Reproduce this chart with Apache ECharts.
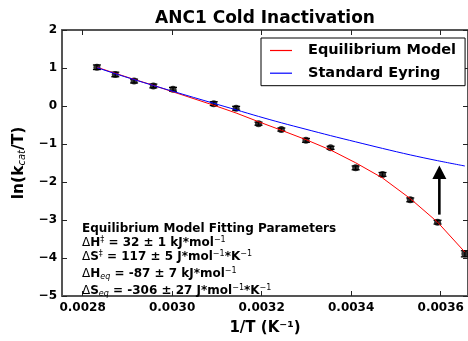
<!DOCTYPE html>
<html>
<head>
<meta charset="utf-8">
<script src="https://cdn.jsdelivr.net/npm/echarts@6/dist/echarts.min.js"></script>
<style>html,body{margin:0;padding:0;background:#fff;}#c{width:468px;height:341px;}</style>
</head>
<body>
<div id="c"></div>
<script>
// ---- data ----
const invT = [0.002832, 0.002873, 0.002915, 0.002958, 0.003002, 0.003093, 0.003143, 0.003193,
              0.003244, 0.003299, 0.003354, 0.003410, 0.003470, 0.003532, 0.003593, 0.003654];
const lnObs = [1.02, 0.83, 0.656, 0.527, 0.44, 0.062, -0.06, -0.465,
               -0.62, -0.904, -1.10, -1.628, -1.80, -2.47, -3.057, -3.89];
const lnErr = [0.06, 0.06, 0.05, 0.05, 0.05, 0.05, 0.05, 0.04,
               0.04, 0.05, 0.04, 0.05, 0.05, 0.05, 0.05, 0.08];
const eqModel = [1.02, 0.86, 0.70, 0.545, 0.372, 0.02, -0.185, -0.413,
                 -0.638, -0.886, -1.158, -1.494, -1.894, -2.437, -3.057, -3.845];
const eyring = [1.01, 0.85, 0.695, 0.54, 0.385, 0.07, -0.101, -0.274,
                -0.442, -0.612, -0.78, -0.943, -1.116, -1.287, -1.439, -1.579];
const xTicks = [0.0028, 0.0030, 0.0032, 0.0034, 0.0036];
const arrowX = [0.003597];
const arrowFrom = [-2.858];
const arrowTo = [-1.566];
const titleText = 'ANC1 Cold Inactivation';
const legendNames = ['Equilibrium Model', 'Standard Eyring'];

const FF = 'DejaVu Sans';
const chart = echarts.init(document.getElementById('c'), null, {renderer: 'canvas'});

const obsData = invT.map((x, i) => [x, lnObs[i], lnErr[i]]);
const eqData = invT.map((x, i) => [x, eqModel[i]]);
const eyData = invT.map((x, i) => [x, eyring[i]]);
const arrowData = arrowX.map((x, i) => [x, arrowFrom[i], arrowTo[i]]);

const spine = {color: '#555', width: 2};
const tickStyle = {color: '#222', width: 1};

const txtRich = {
  b: {fontFamily: FF, fontWeight: 'bold', fontSize: 12, color: '#000', lineHeight: 14},
  n: {fontFamily: FF, fontWeight: 'normal', fontSize: 12, color: '#000', lineHeight: 14},
  sup: {fontFamily: FF, fontWeight: 'normal', fontSize: 8, color: '#000', verticalAlign: 'top', lineHeight: 8},
  sub: {fontFamily: FF, fontStyle: 'italic', fontWeight: 'normal', fontSize: 8, color: '#000', verticalAlign: 'bottom', lineHeight: 8}
};
const paramLines = [
  ['{b|Equilibrium Model Fitting Parameters}', 228.5],
  ['{n|Δ}{b|H}{sup|‡}{b| = 32 ± 1 kJ*mol}{sup|−1}', 242.5],
  ['{n|Δ}{b|S}{sup|‡}{b| = 117 ± 5 J*mol}{sup|−1}{b|*K}{sup|−1}', 257],
  ['{n|Δ}{b|H}{sub|eq}{b| = -87 ± 7 kJ*mol}{sup|−1}', 273.5],
  ['{n|Δ}{b|S}{sub|eq}{b| = -306 ± 27 J*mol}{sup|−1}{b|*K}{sup|−1}', 290.5]
];

const lineIcon = 'path://M0,0 H22 V1.2 H0 Z';

const option = {
  animation: false,
  backgroundColor: '#fff',
  grid: {left: 62, top: 30, width: 408, height: 271, containLabel: false},
  graphic: [
    {type: 'text', x: 265, y: 19, z: 100,
     style: {text: titleText, textAlign: 'center', textVerticalAlign: 'middle',
             fontFamily: FF, fontWeight: 'bold', fontSize: 17, fill: '#000'}}
  ].concat(paramLines.map(l => ({
    type: 'text', x: 82, y: l[1], z: 100,
    style: {text: l[0], textAlign: 'left', textVerticalAlign: 'middle', rich: txtRich}
  }))),
  legend: {
    data: legendNames.map(n => ({name: n, icon: lineIcon})),
    orient: 'vertical', left: 261, top: 38,
    padding: [5, 9, 5, 9], itemWidth: 22, itemHeight: 14, itemGap: 7.7,
    borderColor: '#000', borderWidth: 1, borderRadius: 0, backgroundColor: '#fff',
    textStyle: {fontFamily: FF, fontWeight: 'bold', fontSize: 14.5, color: '#000', padding: [0, 0, 0, 11]}
  },
  xAxis: [
    {type: 'value', position: 'bottom', min: 0.002754, max: 0.003661,
     axisLine: {show: true, onZero: false, lineStyle: spine},
     axisTick: {show: true, inside: true, length: 5, lineStyle: tickStyle, customValues: xTicks},
     axisLabel: {show: true, customValues: xTicks, margin: 6, formatter: v => v.toFixed(4),
                 fontFamily: FF, fontWeight: 'bold', fontSize: 12, color: '#000'},
     splitLine: {show: false},
     name: '1/T (K⁻¹)', nameLocation: 'middle', nameGap: 25,
     nameTextStyle: {fontFamily: FF, fontWeight: 'bold', fontSize: 15, color: '#000'}},
    {type: 'value', position: 'top', min: 0.002754, max: 0.003661,
     axisLine: {show: true, onZero: false, lineStyle: spine},
     axisTick: {show: true, inside: true, length: 5, lineStyle: tickStyle, customValues: xTicks},
     axisLabel: {show: false}, splitLine: {show: false}}
  ],
  yAxis: [
    {type: 'value', position: 'left', min: -5, max: 2, interval: 1,
     axisLine: {show: true, onZero: false, lineStyle: spine},
     axisTick: {show: true, inside: true, length: 5, lineStyle: tickStyle},
     axisLabel: {show: true, margin: 5, formatter: v => (v < 0 ? '\u2212' + (-v) : '' + v),
                 fontFamily: FF, fontWeight: 'bold', fontSize: 12, color: '#000'},
     splitLine: {show: false},
     name: '{m|ln(k}{s|cat}{m|/T)}', nameLocation: 'middle', nameGap: 31, nameRotate: 90,
     nameTextStyle: {rich: {
       m: {fontFamily: FF, fontWeight: 'bold', fontSize: 15.5, color: '#000', lineHeight: 18},
       s: {fontFamily: FF, fontStyle: 'italic', fontSize: 10, color: '#000', verticalAlign: 'bottom', lineHeight: 9}
     }}},
    {type: 'value', position: 'right', min: -5, max: 2, interval: 1,
     axisLine: {show: true, onZero: false, lineStyle: spine},
     axisTick: {show: true, inside: true, length: 5, lineStyle: tickStyle},
     axisLabel: {show: false}, splitLine: {show: false}}
  ],
  series: [
    {type: 'custom', name: 'errors', xAxisIndex: 0, yAxisIndex: 0, data: obsData, z: 2,
     encode: {x: 0, y: 1},
     renderItem: function (params, api) {
       const x = api.value(0), y = api.value(1), e = api.value(2);
       const lo = api.coord([x, y - e]), hi = api.coord([x, y + e]);
       const st = {stroke: '#000', lineWidth: 1.3};
       return {type: 'group', children: [
         {type: 'line', shape: {x1: lo[0], y1: lo[1], x2: hi[0], y2: hi[1]}, style: st},
         {type: 'line', shape: {x1: lo[0] - 4, y1: lo[1], x2: lo[0] + 4, y2: lo[1]}, style: st},
         {type: 'line', shape: {x1: hi[0] - 4, y1: hi[1], x2: hi[0] + 4, y2: hi[1]}, style: st}
       ]};
     }},
    {type: 'scatter', name: 'data', xAxisIndex: 0, yAxisIndex: 0, data: obsData.map(d => [d[0], d[1]]),
     symbol: 'circle', symbolSize: 7, itemStyle: {color: '#000'}, z: 3},
    {type: 'line', name: legendNames[0], xAxisIndex: 0, yAxisIndex: 0, data: eqData,
     symbol: 'none', showSymbol: false, lineStyle: {color: '#ff0000', width: 1}, itemStyle: {color: '#ff0000'}, z: 4},
    {type: 'line', name: legendNames[1], xAxisIndex: 0, yAxisIndex: 0, data: eyData, smooth: 0.3,
     symbol: 'none', showSymbol: false, lineStyle: {color: '#0000ff', width: 1}, itemStyle: {color: '#0000ff'}, z: 4},
    {type: 'custom', name: 'arrow', xAxisIndex: 0, yAxisIndex: 0, data: arrowData, z: 5,
     encode: {x: 0, y: [1, 2]},
     renderItem: function (params, api) {
       const x = api.value(0);
       const b = api.coord([x, api.value(1)]), t = api.coord([x, api.value(2)]);
       const hl = 13.5, hw = 7;
       return {type: 'group', children: [
         {type: 'line', shape: {x1: b[0], y1: b[1], x2: t[0], y2: t[1] + hl - 1}, style: {stroke: '#000', lineWidth: 2.6}},
         {type: 'polygon', shape: {points: [[t[0], t[1]], [t[0] - hw, t[1] + hl], [t[0] + hw, t[1] + hl]]}, style: {fill: '#000'}}
       ]};
     }}
  ]
};
chart.setOption(option);
</script>
</body>
</html>
